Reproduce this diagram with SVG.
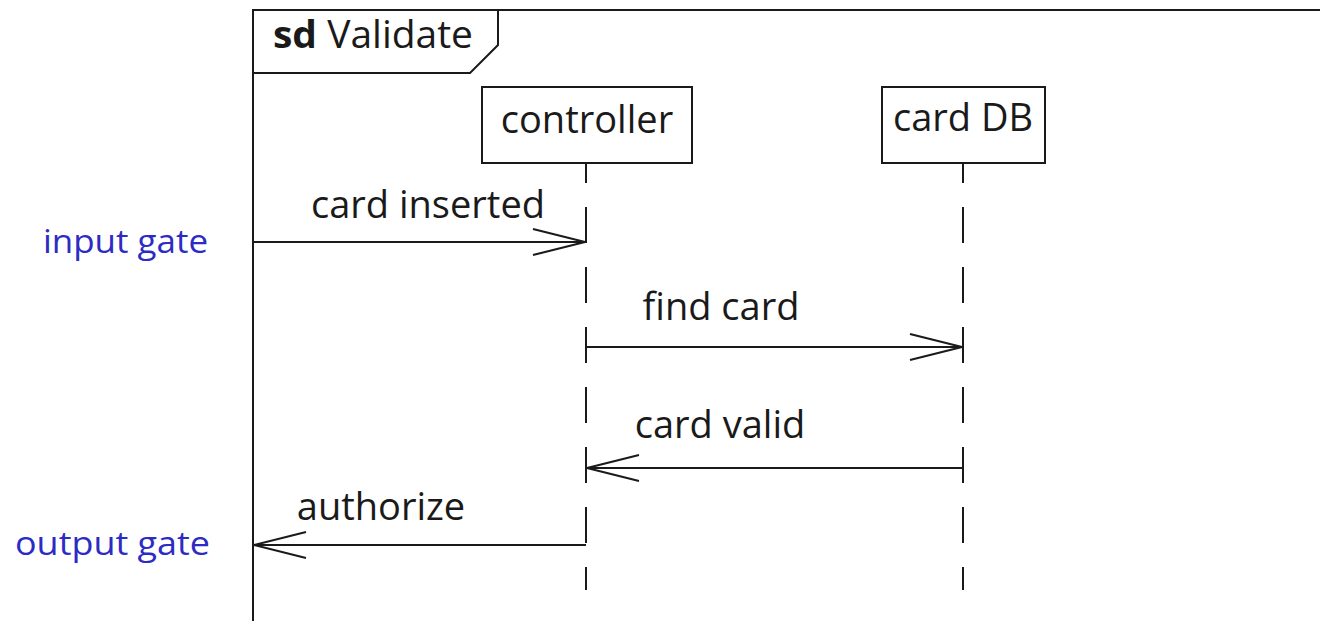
<svg xmlns="http://www.w3.org/2000/svg" width="1320" height="621" viewBox="0 0 1320 621">
  <style>
    .ln { stroke: #1a1a1a; stroke-width: 2; fill: none; }
    .box { stroke: #1a1a1a; stroke-width: 2; fill: #ffffff; }
    .life { stroke: #1a1a1a; stroke-width: 2; fill: none; stroke-dasharray: 36 24; stroke-dashoffset: 16; }
    .t { font-family: "Open Sans", "Liberation Sans", sans-serif; font-size: 38px; fill: #1a1a1a; }
    .gate { font-family: "Open Sans", "Liberation Sans", sans-serif; font-size: 33px; fill: #2c2cc4; }
    .msg { stroke: #1a1a1a; stroke-width: 2; fill: none; marker-end: url(#open); }
  </style>
  <defs>
    <marker id="open" markerUnits="userSpaceOnUse" viewBox="-56 -16 60 32" markerWidth="60" markerHeight="32" refX="0" refY="0" orient="auto">
      <path d="M-52,-13 L0,0 L-52,13" fill="none" stroke="#1a1a1a" stroke-width="2"/>
    </marker>
  </defs>
  <rect x="0" y="0" width="1320" height="621" fill="#ffffff"/>

  <g id="frame">
    <path class="ln" d="M253,621 V10 H1320"/>
    <path class="ln" d="M253,73 H470 L498,45 V10"/>
    <text class="t" x="273" y="48" textLength="200" lengthAdjust="spacingAndGlyphs"><tspan font-weight="bold">sd</tspan> Validate</text>
  </g>

  <g id="controller">
    <line class="life" x1="586" y1="163" x2="586" y2="590"/>
    <rect class="box" x="482" y="87" width="210" height="76"/>
    <text class="t" x="587" y="133" text-anchor="middle">controller</text>
  </g>

  <g id="cardDB">
    <line class="life" x1="963" y1="163" x2="963" y2="590"/>
    <rect class="box" x="882" y="87" width="163" height="76"/>
    <text class="t" x="963" y="131" text-anchor="middle">card DB</text>
  </g>

  <g id="gates">
    <text class="gate" x="43" y="253" textLength="165" lengthAdjust="spacingAndGlyphs">input gate</text>
    <text class="gate" x="15" y="555" textLength="195" lengthAdjust="spacingAndGlyphs">output gate</text>
  </g>

  <g id="connectors">
    <line class="msg" x1="253" y1="242" x2="585" y2="242"/>
    <text class="t" x="428" y="218" text-anchor="middle">card inserted</text>
    <line class="msg" x1="586" y1="347" x2="962" y2="347"/>
    <text class="t" x="721" y="320" text-anchor="middle">find card</text>
    <line class="msg" x1="963" y1="468" x2="587" y2="468"/>
    <text class="t" x="720" y="438" text-anchor="middle">card valid</text>
    <line class="msg" x1="586" y1="545" x2="254" y2="545"/>
    <text class="t" x="381" y="520" text-anchor="middle">authorize</text>
  </g>
</svg>
